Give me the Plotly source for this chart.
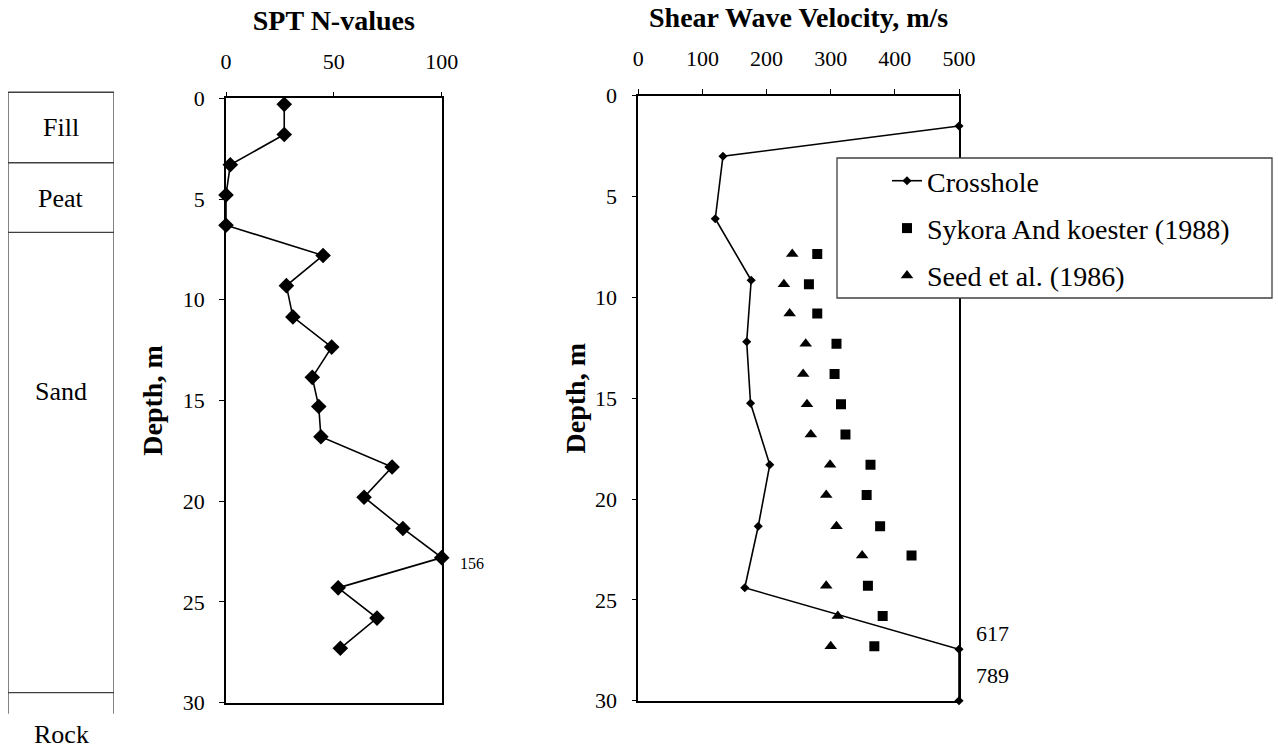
import plotly.graph_objects as go

# ---------------- data ----------------
# SPT N-values vs depth (m); values above the axis maximum are labelled
spt_depth = [0.3, 1.8, 3.3, 4.8, 6.3, 7.8, 9.3, 10.85, 12.35, 13.85, 15.3, 16.8,
             18.3, 19.8, 21.35, 22.8, 24.3, 25.8, 27.3]
spt_n = [27, 27, 2, 0, 0, 45, 28, 31, 49, 40, 43, 44, 77, 64, 82, 156, 52, 70, 53]

# Crosshole shear wave velocity (m/s)
cross_depth = [1.5, 3.0, 6.1, 9.15, 12.2, 15.25, 18.3, 21.35, 24.4, 27.45, 30.0]
cross_vs = [500, 132, 120, 176, 169, 175, 205, 187, 166, 617, 789]

# Empirical correlations
emp_depth = [7.85, 9.35, 10.8, 12.3, 13.8, 15.3, 16.8, 18.3, 19.8, 21.35, 22.8,
             24.3, 25.8, 27.3]
sykora_vs = [279, 266, 279, 309, 306, 316, 323, 362, 356, 377, 426, 358, 381, 368]
seed_vs = [240, 227, 236, 261, 257, 263, 269, 299, 293, 309, 349, 293, 311, 300]

# Soil column
layer_names = ["Fill", "Peat", "Sand", "Rock"]
layer_tops = [-0.3, 3.2, 6.65, 29.5]
layer_label_depth = [1.45, 4.95, 14.55, 31.6]
column_end = 30.55

SPT_MAX = 100
VS_MAX = 500
DEPTH_MAX = 30

FONT = "Liberation Serif, Times New Roman, serif"
W, H = 1278, 753

# ---------------- layout geometry (paper fractions) ----------------
spt_x = [226 / W, 441.7 / W]
spt_y = [1 - 702.7 / H, 1 - 98.3 / H]
vs_x = [638.3 / W, 959 / W]
vs_y = [1 - 700.7 / H, 1 - 95.7 / H]
col_x = [8 / W, 114 / W]

# column axis uses the same depth scale as the SPT panel
per = DEPTH_MAX / (spt_y[1] - spt_y[0])
col_range = [DEPTH_MAX + spt_y[0] * per, 0 - (1 - spt_y[1]) * per]

fig = go.Figure()

# SPT trace
fig.add_trace(go.Scatter(
    x=[min(v, SPT_MAX) for v in spt_n], y=spt_depth, mode="lines+markers",
    line=dict(color="black", width=1.6),
    marker=dict(symbol="diamond", size=12, color="black"),
    xaxis="x", yaxis="y", showlegend=False, cliponaxis=False, name="SPT"))

# Crosshole
fig.add_trace(go.Scatter(
    x=[min(v, VS_MAX) for v in cross_vs], y=cross_depth, mode="lines+markers",
    line=dict(color="black", width=1.6),
    marker=dict(symbol="diamond", size=7, color="black"),
    xaxis="x2", yaxis="y2", name="Crosshole", legendgroup="a", cliponaxis=False))
fig.add_trace(go.Scatter(
    x=sykora_vs, y=emp_depth, mode="markers",
    marker=dict(symbol="square", size=10, color="black"),
    xaxis="x2", yaxis="y2", name="Sykora And koester (1988)", legendgroup="b"))
fig.add_trace(go.Scatter(
    x=seed_vs, y=emp_depth, mode="markers",
    marker=dict(symbol="triangle-up", size=11, color="black"),
    xaxis="x2", yaxis="y2", name="Seed et al. (1986)", legendgroup="c"))

# Soil column lines
cx, cy = [], []
for t in layer_tops:
    cx += [0, 1, None]
    cy += [t, t, None]
for side in (0, 1):
    cx += [side, side, None]
    cy += [layer_tops[0], column_end, None]
fig.add_trace(go.Scatter(x=cx, y=cy, mode="lines", line=dict(color="#404040", width=1.3),
                         xaxis="x5", yaxis="y5", showlegend=False, hoverinfo="skip",
                         cliponaxis=False))

annotations = []
for name, d in zip(layer_names, layer_label_depth):
    annotations.append(dict(x=0.5, y=d, xref="x5", yref="y5", text=name, showarrow=False,
                            font=dict(family=FONT, size=26, color="black")))

# clipped value labels
for n, d in zip(spt_n, spt_depth):
    if n > SPT_MAX:
        annotations.append(dict(x=SPT_MAX, y=d, xref="x", yref="y", text=str(n),
                                showarrow=False, xanchor="left", xshift=16, yshift=-6,
                                font=dict(family=FONT, size=16, color="black")))
shifts = {617: 16, 789: 25}
for v, d in zip(cross_vs, cross_depth):
    if v > VS_MAX:
        annotations.append(dict(x=VS_MAX, y=d, xref="x2", yref="y2", text=str(v),
                                showarrow=False, xanchor="left", xshift=15,
                                yshift=shifts.get(v, 16),
                                font=dict(family=FONT, size=22, color="black")))

tickfont = dict(family=FONT, size=22, color="black")
titlefont = dict(family=FONT, size=28, color="black")

def main_x(domain, rng, vals, anchor, title, standoff):
    return dict(domain=domain, range=rng, side="top", anchor=anchor, tickvals=vals,
                ticks="outside", ticklen=5, tickwidth=1.3, tickcolor="black",
                showline=True, linewidth=1.6, linecolor="black", mirror=True,
                showgrid=False, zeroline=False, tickfont=tickfont, ticklabelstandoff=14,
                automargin=False,
                title=dict(text=title, font=titlefont, standoff=standoff))

def main_y(domain, rng, anchor, title, standoff):
    return dict(domain=domain, range=rng, anchor=anchor, tickvals=list(range(0, 31, 5)),
                ticks="outside", ticklen=5, tickwidth=1.3, tickcolor="black",
                showline=True, linewidth=1.6, linecolor="black", mirror=True,
                showgrid=False, zeroline=False, tickfont=tickfont, ticklabelstandoff=10,
                automargin=False,
                title=dict(text=title, font=titlefont, standoff=standoff))

def minor_x(over, anchor, rng, vals):
    return dict(overlaying=over, anchor=anchor, side="top", range=rng, tickvals=vals,
                ticks="inside", ticklen=7, tickwidth=1.3, tickcolor="black",
                showticklabels=False, showline=False, showgrid=False, zeroline=False,
                automargin=False)

def minor_y(over, anchor, rng):
    return dict(overlaying=over, anchor=anchor, side="left", range=rng,
                tickvals=list(range(0, 31)), ticks="inside", ticklen=7, tickwidth=1.3,
                tickcolor="black", showticklabels=False, showline=False, showgrid=False,
                zeroline=False, automargin=False)

fig.update_layout(
    width=W, height=H, margin=dict(l=0, r=0, t=0, b=0, pad=0, autoexpand=False),
    paper_bgcolor="white", plot_bgcolor="white",
    font=dict(family=FONT, color="black"),
    xaxis=main_x(spt_x, [0, SPT_MAX], [0, 50, 100], "y", "<b>SPT N-values</b>", 10),
    yaxis=main_y(spt_y, [DEPTH_MAX, 0], "x", "<b>Depth, m</b>", 12),
    xaxis2=main_x(vs_x, [0, VS_MAX], list(range(0, 501, 100)), "y2",
                  "<b>Shear Wave Velocity, m/s</b>", 10),
    yaxis2=main_y(vs_y, [DEPTH_MAX, 0], "x2", "<b>Depth, m</b>", 1),
    xaxis3=minor_x("x", "y", [0, SPT_MAX], list(range(0, 101, 10))),
    yaxis3=minor_y("y", "x", [DEPTH_MAX, 0]),
    xaxis4=minor_x("x2", "y2", [0, VS_MAX], list(range(0, 501, 50))),
    yaxis4=minor_y("y2", "x2", [DEPTH_MAX, 0]),
    xaxis5=dict(domain=col_x, range=[0, 1], anchor="y5", visible=False),
    yaxis5=dict(domain=[0, 1], range=col_range, anchor="x5", visible=False),
    legend=dict(x=887 / W, y=1 - 156 / H, xanchor="left", yanchor="top",
                bgcolor="rgba(0,0,0,0)", borderwidth=0, traceorder="grouped",
                tracegroupgap=8, font=dict(family=FONT, size=28, color="black")),
    shapes=[dict(type="rect", xref="paper", yref="paper", x0=837 / W, x1=1272 / W,
                 y0=1 - 298 / H, y1=1 - 158 / H, fillcolor="white",
                 line=dict(color="#404040", width=1.3), layer="above")],
    annotations=annotations,
)

fig.write_html("out.html", config={"displayModeBar": False},
               post_script="document.body.style.margin='0px';")
